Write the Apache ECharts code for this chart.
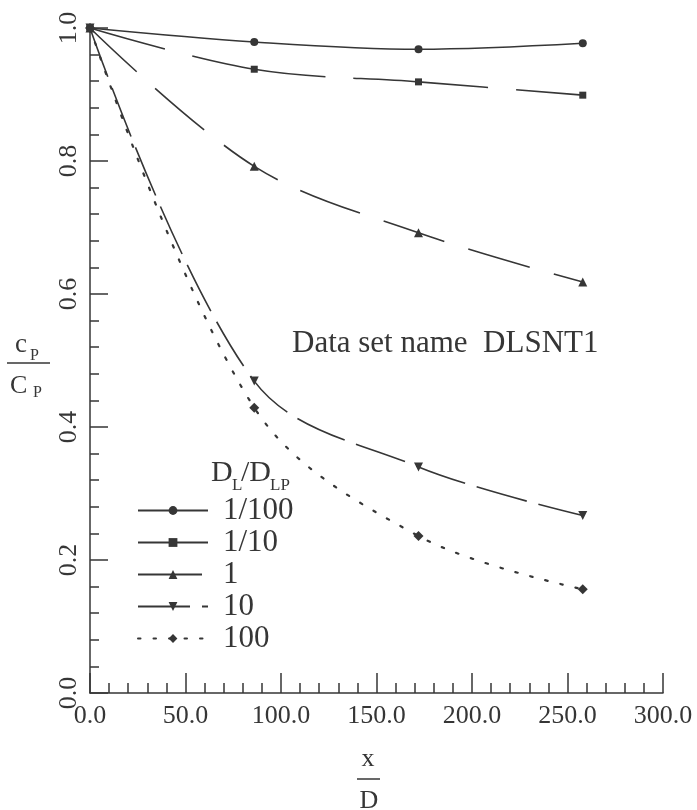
<!DOCTYPE html>
<html>
<head>
<meta charset="utf-8">
<script src="https://cdn.jsdelivr.net/npm/echarts@6/dist/echarts.min.js"></script>
<style>
  html, body { margin: 0; padding: 0; background: #fff; }
  #chart { width: 697px; height: 810px; }
</style>
</head>
<body>
<div id="chart"></div>
<script>
// Downstream positions x/D where the concentration ratio was evaluated
const xOverD = [0, 86, 172, 258];

// Legend labels (D_L / D_LP ratio)
const seriesNames = ['1/100', '1/10', '1', '10', '100'];

// cp / Cp for each D_L/D_LP ratio
const ratio_1_100 = [1.0, 0.979, 0.968, 0.977];
const ratio_1_10  = [1.0, 0.938, 0.919, 0.899];
const ratio_1     = [1.0, 0.792, 0.692, 0.618];
const ratio_10    = [1.0, 0.469, 0.340, 0.267];
const ratio_100   = [1.0, 0.429, 0.236, 0.156];

// Axis tick settings
const xTicks = { min: 0, max: 300, step: 50 };
const yTicks = { min: 0, max: 1, step: 0.2 };

const INK = '#363636';
const SERIF = '"Liberation Serif", "Times New Roman", serif';

const pairs = ys => xOverD.map((x, i) => [x, ys[i]]);

const styles = [
  { symbol: 'circle',   size: 8,  rotate: 0,   dash: 'solid' },
  { symbol: 'rect',     size: 7,  rotate: 0,   dash: [135, 28], offset: 57 },
  { symbol: 'triangle', size: 9,  rotate: 0,   dash: [64, 25] },
  { symbol: 'triangle', size: 9,  rotate: 180, dash: [52, 12] },
  { symbol: 'diamond',  size: 10, rotate: 0,   dash: [2.5, 13] }
];
const allValues = [ratio_1_100, ratio_1_10, ratio_1, ratio_10, ratio_100];

const series = seriesNames.map((name, i) => ({
  name,
  type: 'line',
  data: pairs(allValues[i]),
  smooth: 0.35,
  symbol: styles[i].symbol,
  symbolSize: styles[i].size,
  symbolRotate: styles[i].rotate,
  showAllSymbol: true,
  itemStyle: { color: INK },
  lineStyle: {
    color: INK,
    width: i === 4 ? 2.2 : 1.6,
    type: styles[i].dash,
    dashOffset: styles[i].offset || 0,
    cap: i === 4 ? 'round' : 'butt'
  },
  emphasis: { disabled: true },
  animation: false
}));

const chart = echarts.init(document.getElementById('chart'), null, { renderer: 'canvas' });

chart.setOption({
  backgroundColor: '#ffffff',
  animation: false,
  grid: { left: 90, right: 34, top: 28, bottom: 117, containLabel: false },
  xAxis: {
    type: 'value',
    min: xTicks.min, max: xTicks.max, interval: xTicks.step,
    axisLine: { show: true, lineStyle: { color: INK, width: 1.5 } },
    axisTick: { show: true, inside: true, length: 20, lineStyle: { color: INK, width: 1.5 } },
    minorTick: { show: true, splitNumber: 5, length: 10, lineStyle: { color: INK, width: 1.5 } },
    splitLine: { show: false },
    axisLabel: {
      color: INK, fontFamily: SERIF, fontSize: 26, margin: 10,
      formatter: v => v.toFixed(1)
    }
  },
  yAxis: {
    type: 'value',
    min: yTicks.min, max: yTicks.max, interval: yTicks.step,
    axisLine: { show: true, lineStyle: { color: INK, width: 1.5 } },
    axisTick: { show: true, inside: true, length: 18, lineStyle: { color: INK, width: 1.5 } },
    minorTick: { show: true, splitNumber: 5, length: 9, lineStyle: { color: INK, width: 1.5 } },
    splitLine: { show: false },
    axisLabel: {
      color: INK, fontFamily: SERIF, fontSize: 26, rotate: 90, margin: 8,
      formatter: v => v.toFixed(1)
    }
  },
  legend: {
    orient: 'vertical',
    left: 132, top: 490,
    itemWidth: 70, itemHeight: 11,
    itemGap: 1,
    selectedMode: false,
    textStyle: { color: INK, fontFamily: SERIF, fontSize: 31, lineHeight: 31, padding: [0, 0, 0, 10] },
    data: seriesNames
  },
  graphic: [
    // Annotation
    { type: 'text', left: 292, top: 328, silent: true,
      style: { text: 'Data set name  DLSNT1', fill: INK, font: '31px ' + SERIF } },
    // Legend heading D_L / D_LP
    { type: 'text', x: 211, y: 488, silent: true,
      style: { text: 'D', fill: INK, font: '30px ' + SERIF, textVerticalAlign: 'bottom' } },
    { type: 'text', x: 232, y: 494, silent: true,
      style: { text: 'L', fill: INK, font: '17px ' + SERIF, textVerticalAlign: 'bottom' } },
    { type: 'text', x: 241, y: 488, silent: true,
      style: { text: '/D', fill: INK, font: '30px ' + SERIF, textVerticalAlign: 'bottom' } },
    { type: 'text', x: 270, y: 494, silent: true,
      style: { text: 'LP', fill: INK, font: '17px ' + SERIF, textVerticalAlign: 'bottom' } },
    // y-axis title: cP / CP
    { type: 'text', x: 15, y: 358, silent: true,
      style: { text: 'c', fill: INK, font: '27px ' + SERIF, textVerticalAlign: 'bottom' } },
    { type: 'text', x: 30, y: 364, silent: true,
      style: { text: 'P', fill: INK, font: '16px ' + SERIF, textVerticalAlign: 'bottom' } },
    { type: 'line', silent: true,
      shape: { x1: 7, y1: 363, x2: 50, y2: 363 }, style: { stroke: INK, lineWidth: 1.5 } },
    { type: 'text', x: 10, y: 399, silent: true,
      style: { text: 'C', fill: INK, font: '26px ' + SERIF, textVerticalAlign: 'bottom' } },
    { type: 'text', x: 33, y: 401, silent: true,
      style: { text: 'P', fill: INK, font: '16px ' + SERIF, textVerticalAlign: 'bottom' } },
    // x-axis title: x / D
    { type: 'text', x: 368, y: 772, silent: true,
      style: { text: 'x', fill: INK, font: '26px ' + SERIF, textAlign: 'center', textVerticalAlign: 'bottom' } },
    { type: 'line', silent: true,
      shape: { x1: 357, y1: 779, x2: 380, y2: 779 }, style: { stroke: INK, lineWidth: 1.5 } },
    { type: 'text', x: 369, y: 814, silent: true,
      style: { text: 'D', fill: INK, font: '26px ' + SERIF, textAlign: 'center', textVerticalAlign: 'bottom' } }
  ],
  series
});
</script>
</body>
</html>
